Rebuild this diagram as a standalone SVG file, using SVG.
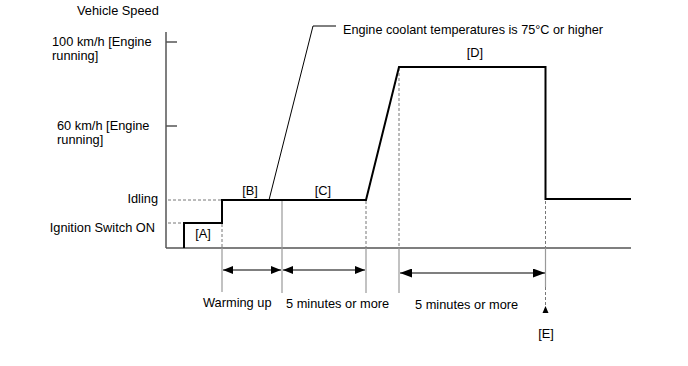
<svg xmlns="http://www.w3.org/2000/svg" width="688" height="366" viewBox="0 0 688 366">
<style>
text{font-family:"Liberation Sans",Arial,sans-serif;font-size:12.8px;fill:#000}
.axis{stroke:#555;stroke-width:1.5;fill:none}
.curve{stroke:#000;stroke-width:2;fill:none;stroke-linejoin:miter}
.dash{stroke:#777;stroke-width:1;stroke-dasharray:3,2;fill:none}
.guide{stroke:#999;stroke-width:1.2;fill:none}
.dim{stroke:#000;stroke-width:1.2;fill:none}
.lead{stroke:#000;stroke-width:1;fill:none}
</style>
<defs>
<marker id="ah" viewBox="0 0 10 8" refX="10" refY="4" markerWidth="10" markerHeight="8" markerUnits="userSpaceOnUse" orient="auto-start-reverse"><path d="M0,0 L10,4 L0,8 Z" fill="#000"/></marker>
<marker id="ahL" viewBox="0 0 12 9" refX="12" refY="4.5" markerWidth="12" markerHeight="9" markerUnits="userSpaceOnUse" orient="auto-start-reverse"><path d="M0,0 L12,4.5 L0,9 Z" fill="#000"/></marker>
</defs>
<g id="axes">
<line class="axis" x1="166" y1="32" x2="166" y2="248"/>
<line class="axis" x1="166" y1="248" x2="631" y2="248"/>
<line class="axis" x1="166" y1="42" x2="177" y2="42"/>
<line class="axis" x1="166" y1="126" x2="177" y2="126"/>
<text x="77" y="15">Vehicle Speed</text>
<text x="52" y="46">100 km/h [Engine</text>
<text x="52" y="60">running]</text>
<text x="57" y="130">60 km/h [Engine</text>
<text x="57" y="144">running]</text>
<text x="158" y="203" text-anchor="end">Idling</text>
<text x="155" y="232" text-anchor="end">Ignition Switch ON</text>
</g>
<g id="guides">
<line class="dash" x1="168" y1="200" x2="221" y2="200"/>
<line class="dash" x1="168" y1="223" x2="183" y2="223"/>
<line class="dash" x1="222" y1="224" x2="222" y2="248"/>
<line class="dash" x1="366" y1="201" x2="366" y2="248"/>
<line class="dash" x1="399" y1="68" x2="399" y2="248"/>
<line class="dash" x1="545.5" y1="201" x2="545.5" y2="248"/>
<line class="guide" x1="282" y1="201" x2="282" y2="293"/>
<line class="guide" x1="222" y1="248" x2="222" y2="292"/>
<line class="guide" x1="366" y1="248" x2="366" y2="293"/>
<line class="guide" x1="399" y1="248" x2="399" y2="293"/>
<line class="guide" x1="545.5" y1="248" x2="545.5" y2="287"/>
</g>
<g id="curve">
<polyline class="curve" points="184,248 184,223 222,223 222,200 366,200 399,67 545.5,67 545.5,199 631,199"/>
</g>
<g id="A"><text x="203" y="238" text-anchor="middle">[A]</text></g>
<g id="B"><text x="250" y="195" text-anchor="middle">[B]</text></g>
<g id="C"><text x="323" y="195" text-anchor="middle">[C]</text></g>
<g id="D"><text x="475" y="57" text-anchor="middle">[D]</text></g>
<g id="note">
<polyline class="lead" points="269,200 313,26 336,26"/>
<text x="343" y="34" textLength="260" lengthAdjust="spacingAndGlyphs">Engine coolant temperatures is 75°C or higher</text>
</g>
<g id="connectors">
<line class="dim" x1="223" y1="270" x2="281" y2="270" marker-start="url(#ah)" marker-end="url(#ah)"/>
<line class="dim" x1="283" y1="270" x2="365" y2="270" marker-start="url(#ah)" marker-end="url(#ah)"/>
<line class="dim" x1="400" y1="273" x2="545" y2="273" marker-start="url(#ahL)" marker-end="url(#ahL)"/>
<line class="dash" x1="545.5" y1="287" x2="545.5" y2="306"/>
<path d="M545.5,306 L548.5,313 L542.5,313 Z" fill="#000"/>
</g>
<g id="labels">
<text x="203" y="307">Warming up</text>
<text x="286" y="308">5 minutes or more</text>
<text x="415" y="309">5 minutes or more</text>
<g id="E"><text x="546" y="338" text-anchor="middle">[E]</text></g>
</g>
</svg>
